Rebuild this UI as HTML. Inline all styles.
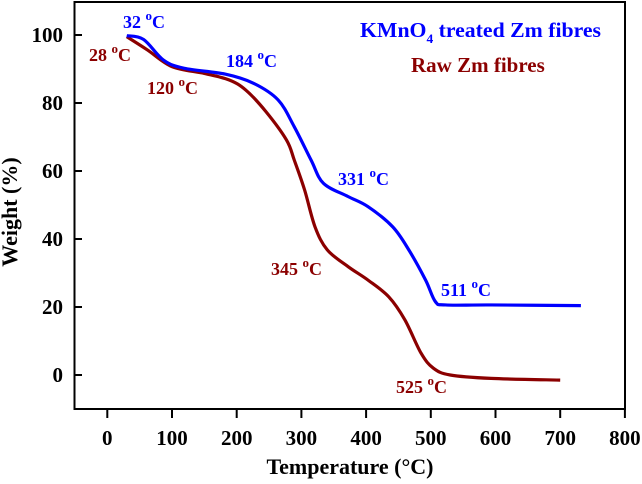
<!DOCTYPE html>
<html><head><meta charset="utf-8"><style>
html,body{margin:0;padding:0;background:#fff}
svg{display:block;font-family:"Liberation Serif",serif;font-weight:bold}
</style></head><body>
<svg id="chart" width="642" height="484" viewBox="0 0 642 484">
<rect x="74.5" y="2" width="550.5" height="407" fill="none" stroke="#000" stroke-width="2"/>
<g id="xt"></g>
<g id="yt"></g>
<g id="series"></g>
<text x="350" y="474" text-anchor="middle" font-size="22">Temperature (°C)</text>
<text transform="translate(17,212) rotate(-90)" text-anchor="middle" font-size="22">Weight (%)</text>
<text x="360" y="37" font-size="21" fill="#0000ff" textLength="241" lengthAdjust="spacingAndGlyphs">KMnO<tspan font-size="13" dy="6">4</tspan><tspan dy="-6"> treated Zm fibres</tspan></text>
<text x="411" y="72" font-size="21" fill="#8b0000">Raw Zm fibres</text>
<g font-size="18">
<text x="123" y="28" fill="#0000ff">32 <tspan font-size="13" dy="-8">o</tspan><tspan dy="8">C</tspan></text>
<text x="89" y="61" fill="#8b0000">28 <tspan font-size="13" dy="-8">o</tspan><tspan dy="8">C</tspan></text>
<text x="226" y="67" fill="#0000ff">184 <tspan font-size="13" dy="-8">o</tspan><tspan dy="8">C</tspan></text>
<text x="147" y="94" fill="#8b0000">120 <tspan font-size="13" dy="-8">o</tspan><tspan dy="8">C</tspan></text>
<text x="338" y="185" fill="#0000ff">331 <tspan font-size="13" dy="-8">o</tspan><tspan dy="8">C</tspan></text>
<text x="271" y="275" fill="#8b0000">345 <tspan font-size="13" dy="-8">o</tspan><tspan dy="8">C</tspan></text>
<text x="441" y="296" fill="#0000ff">511 <tspan font-size="13" dy="-8">o</tspan><tspan dy="8">C</tspan></text>
<text x="396" y="393" fill="#8b0000">525 <tspan font-size="13" dy="-8">o</tspan><tspan dy="8">C</tspan></text>
</g>
</svg>
<script>
const xTicks=[0,100,200,300,400,500,600,700,800];
const yTicks=[0,20,40,60,80,100];
const blueT=[30,56,87,119,182,226,264,289,315,334,372,403,441,466,492,507,523,593,732];
const blueW=[99.8,98.7,92.6,90.2,88.5,85.8,80.9,73,63.2,56.4,52.5,49.5,43.6,36.8,27.9,21.6,20.6,20.6,20.4];
const redT=[30,62,100,150,188,214,245,277,289,305,321,340,372,403,435,460,485,504,530,593,700];
const redW=[99.5,95.6,90.7,88.7,86.8,83.8,77.5,69.1,63.2,54.4,43.6,36.8,31.9,27.9,23,16.2,6.4,2,0,-1,-1.5];
const NS='http://www.w3.org/2000/svg';
const X=t=>107.3+t*0.647;
const Y=w=>375-w*3.4;
function mk(tag,attrs,parent){const e=document.createElementNS(NS,tag);for(const k in attrs)e.setAttribute(k,attrs[k]);parent.appendChild(e);return e;}
const xt=document.getElementById('xt'),yt=document.getElementById('yt'),sg=document.getElementById('series');
xTicks.forEach(t=>{
 const l=mk('line',{x1:X(t),x2:X(t),y1:409,y2:418,stroke:'#000','stroke-width':2},xt);
 
 
 const tx=mk('text',{x:X(t),y:445,'text-anchor':'middle','font-size':21},xt);
 tx.textContent=t;
 
 
});
yTicks.forEach(v=>{
 const l=mk('line',{x1:74.5,x2:82,y1:Y(v),y2:Y(v),stroke:'#000','stroke-width':2},yt);
 
 
 const tx=mk('text',{x:63,y:Y(v)+7,'text-anchor':'end','font-size':21},yt);
 tx.textContent=v;
 
 
});
function path(ts,ws){
 const p=ts.map((t,i)=>[X(t),Y(ws[i])]);
 let d='M'+p[0][0]+','+p[0][1];
 for(let i=0;i<p.length-1;i++){
  const p0=p[Math.max(0,i-1)],p1=p[i],p2=p[i+1],p3=p[Math.min(p.length-1,i+2)];
  const c1=[p1[0]+(p2[0]-p0[0])/6,p1[1]+(p2[1]-p0[1])/6];
  const c2=[p2[0]-(p3[0]-p1[0])/6,p2[1]-(p3[1]-p1[1])/6];
  d+=' C'+c1+' '+c2+' '+p2;
 }
 return d;
}
const r=mk('path',{d:path(redT,redW),fill:'none',stroke:'#8b0000','stroke-width':3.2},sg);


const b=mk('path',{d:path(blueT,blueW),fill:'none',stroke:'#0000ff','stroke-width':3.2},sg);


</script>
</body></html>
